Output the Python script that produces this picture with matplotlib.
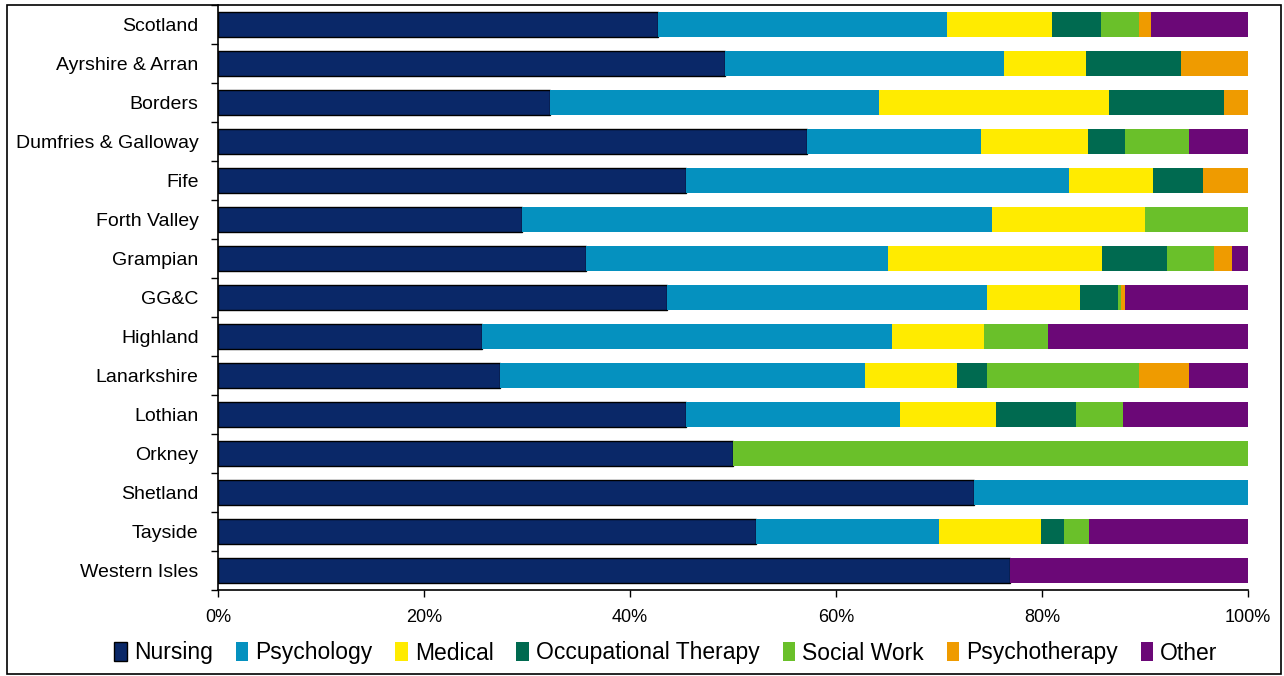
import numpy as np
import matplotlib.pyplot as plt
from matplotlib.patches import Rectangle

plt.rcParams['font.family'] = ['Liberation Sans', 'DejaVu Sans']

boards = ["Scotland", "Ayrshire & Arran", "Borders", "Dumfries & Galloway", "Fife",
          "Forth Valley", "Grampian", "GG&C", "Highland", "Lanarkshire", "Lothian",
          "Orkney", "Shetland", "Tayside", "Western Isles"]

nursing       = [42.7, 49.2, 32.2, 57.2, 45.4, 29.5, 35.7, 43.6, 25.6, 27.4, 45.4, 50.0, 73.4, 52.2, 76.9]
psychology    = [28.1, 27.1, 32.0, 16.9, 37.2, 45.6, 29.3, 31.1, 39.8, 35.4, 20.8, 0.0, 26.6, 17.8, 0.0]
medical       = [10.2, 8.0, 22.3, 10.4, 8.2, 14.9, 20.8, 9.0, 9.0, 8.9, 9.3, 0.0, 0.0, 9.9, 0.0]
occ_therapy   = [4.7, 9.2, 11.2, 3.6, 4.8, 0.0, 6.3, 3.7, 0.0, 3.0, 7.8, 0.0, 0.0, 2.2, 0.0]
social_work   = [3.7, 0.0, 0.0, 6.2, 0.0, 10.0, 4.6, 0.3, 6.2, 14.7, 4.6, 50.0, 0.0, 2.5, 0.0]
psychotherapy = [1.2, 6.5, 2.3, 0.0, 4.4, 0.0, 1.7, 0.4, 0.0, 4.9, 0.0, 0.0, 0.0, 0.0, 0.0]
other         = [9.4, 0.0, 0.0, 5.7, 0.0, 0.0, 1.6, 11.9, 19.4, 5.7, 12.1, 0.0, 0.0, 15.4, 23.1]

series = [
    ("Nursing", nursing, "#0A2868"),
    ("Psychology", psychology, "#0591BF"),
    ("Medical", medical, "#FFEB00"),
    ("Occupational Therapy", occ_therapy, "#006A50"),
    ("Social Work", social_work, "#6AC02A"),
    ("Psychotherapy", psychotherapy, "#EF9B00"),
    ("Other", other, "#6B0877"),
]

fig = plt.figure(figsize=(12.84, 6.76), dpi=100)
ax = fig.add_axes([218/1284, 1 - 590/676, 1030/1284, 585/676])

y = np.arange(len(boards))
left = np.zeros(len(boards))
handles = []
for name, vals, col in series:
    vals = np.array(vals)
    if name == "Nursing":
        h = ax.barh(y, vals, left=left, height=0.62, color=col, edgecolor="black", linewidth=1.0, label=name)
    else:
        h = ax.barh(y, vals, left=left, height=0.62, color=col, linewidth=0, label=name)
    handles.append(h)
    left += vals

ax.set_xlim(0, 100)
ax.set_ylim(len(boards) - 0.5, -0.5)
ax.set_xticks(np.arange(0, 101, 20))
ax.set_xticklabels([f"{v}%" for v in range(0, 101, 20)], fontsize=13)
ax.set_yticks(y)
ax.set_yticklabels(boards, fontsize=14)
ax.set_yticks(np.arange(-0.5, len(boards), 1), minor=True)
ax.tick_params(axis="y", which="major", length=0, pad=14)
ax.tick_params(axis="y", which="minor", length=5, direction="out", width=1)
ax.tick_params(axis="x", length=5, direction="out", width=1, pad=9)
for s in ["top", "right"]:
    ax.spines[s].set_visible(False)
for s in ["left", "bottom"]:
    ax.spines[s].set_linewidth(1.2)

fig.legend(handles=handles, loc="center", bbox_to_anchor=(666/1284, 1 - 653/676),
           ncol=7, frameon=False, fontsize=16.5, handlelength=0.55, handleheight=0.85,
           handletextpad=0.3, columnspacing=1.0)

fig.patches.append(Rectangle((7/1284, 2/676), 1274/1284, 669/676, transform=fig.transFigure,
                             fill=False, edgecolor="black", linewidth=1.2))

fig.savefig("out.png", dpi=100)
